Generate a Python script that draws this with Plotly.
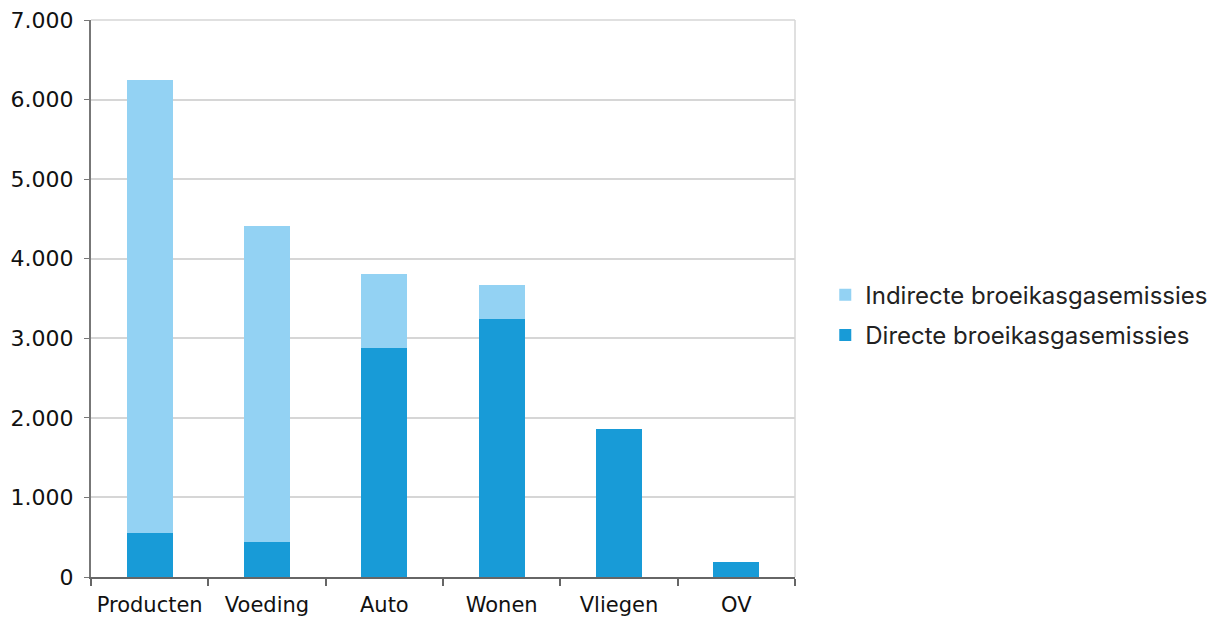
import plotly.graph_objects as go

categories = ["Producten", "Voeding", "Auto", "Wonen", "Vliegen", "OV"]
direct = [550, 440, 2880, 3240, 1865, 185]
totals = [6250, 4410, 3805, 3670, 1865, 185]
indirect = [t - d for t, d in zip(totals, direct)]
y_ticks = [0, 1000, 2000, 3000, 4000, 5000, 6000, 7000]

light = "#93D2F3"
dark = "#189BD7"

fig = go.Figure()
fig.add_trace(go.Bar(x=categories, y=direct, name="Directe broeikasgasemissies",
                     marker=dict(color=dark, line=dict(width=0)), legendgroup="d",
                     legendrank=2))
fig.add_trace(go.Bar(x=categories, y=indirect, name="Indirecte broeikasgasemissies",
                     marker=dict(color=light, line=dict(width=0)), legendgroup="i",
                     legendrank=1))

fig.update_layout(
    width=1227, height=621,
    barmode="stack", bargap=0.61,
    separators=",.",
    paper_bgcolor="white", plot_bgcolor="white",
    margin=dict(l=91, r=432, t=20, b=44),
    font=dict(family="DejaVu Sans", size=21, color="#111"),
    legend=dict(x=1.043, y=0.47, xanchor="left", yanchor="middle",
                traceorder="grouped", tracegroupgap=6,
                font=dict(family="Inter", size=24, color="#222")),
    showlegend=True,
)
fig.update_xaxes(showline=True, linecolor="#666", linewidth=2, automargin=False,
                 ticks="outside", tickson="boundaries", ticklen=7, tickcolor="#666", tickwidth=2,
                 showgrid=False, mirror=False, ticklabelstandoff=8,
                 tickfont=dict(family="DejaVu Sans", size=21, color="#111"))
fig.update_yaxes(range=[0, 7000], tickvals=y_ticks, tickformat=",d", automargin=False,
                 showline=True, linecolor="#777", linewidth=2,
                 ticks="outside", ticklen=5, tickcolor="#777",
                 showgrid=True, gridcolor="#d6d6d6", gridwidth=1.5,
                 zeroline=False, ticklabelstandoff=6,
                 tickfont=dict(family="DejaVu Sans", size=22, color="#111"))
# top gridline and right border line
fig.add_shape(type="line", xref="paper", yref="paper", x0=0, x1=1, y0=1, y1=1,
              line=dict(color="#d6d6d6", width=1.5))
fig.add_shape(type="line", xref="paper", yref="paper", x0=1, x1=1, y0=0, y1=1,
              line=dict(color="#d6d6d6", width=1.5))

fig.write_html("out.html")
